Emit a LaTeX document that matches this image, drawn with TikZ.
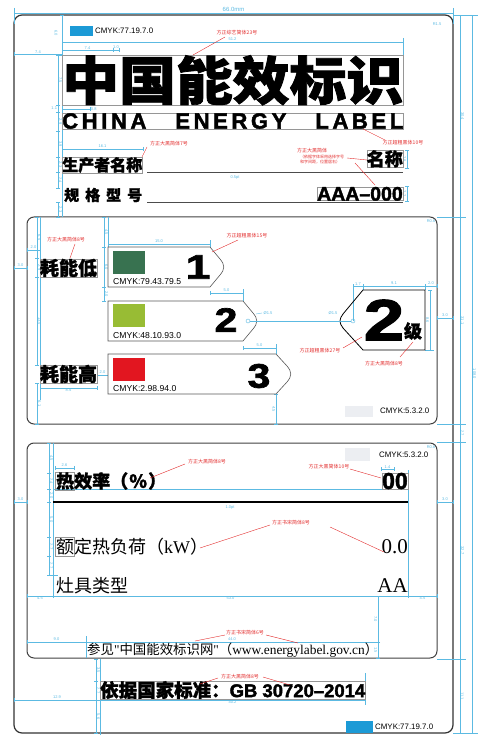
\documentclass[tikz,border=0pt]{standalone}
\usepackage{fontspec}
\usepackage{graphicx}
\setmainfont{Liberation Sans}
\newfontfamily\cjk{Noto Sans CJK SC}
\newfontfamily\cjkheavy{Noto Sans CJK SC}[BoldFeatures={FakeBold=1.5}]
\newfontfamily\heavy{Liberation Sans}[BoldFeatures={FakeBold=2}]
\newfontfamily\lserif{Liberation Serif}
\usetikzlibrary{arrows.meta}

\definecolor{dimblue}{RGB}{92,186,226}
\definecolor{notered}{RGB}{226,45,45}
\definecolor{labcyan}{RGB}{28,154,214}
\definecolor{gradeA}{RGB}{56,114,80}
\definecolor{gradeB}{RGB}{152,188,52}
\definecolor{gradeC}{RGB}{226,22,32}
\definecolor{paleswatch}{RGB}{236,238,242}
\definecolor{boxgray}{RGB}{150,150,150}

\begin{document}
\begin{tikzpicture}[x=1pt,y=-1pt,
    dimln/.style={draw=dimblue, line width=0.35pt, arrows={Bar[width=4pt]-Bar[width=4pt]}},
    extln/.style={draw=dimblue, line width=0.35pt},
    dimlab/.style={text=dimblue, font=\fontsize{4}{4}\selectfont, inner sep=0.8pt},
    note/.style={text=notered, font=\cjk\fontsize{5}{5}\selectfont, inner sep=0.5pt},
    noteln/.style={draw=notered, line width=0.4pt},
    textbox/.style={draw=boxgray, line width=0.5pt},
    panel/.style={draw=black!75, line width=1pt, rounded corners=7pt},
    bar/.style={draw=black!65, line width=0.6pt, fill=white},
    cmyk/.style={font=\fontsize{7.9}{8}\selectfont, anchor=west}]
\tikzstyle{every node}+=[inner sep=0pt]
\useasboundingbox (0,0) rectangle (478,735);

% outer frame and panels
\draw [black!80, line width=1.2pt, rounded corners=8pt] (14,15) rectangle (453,733);
\draw [panel] (27,217) rectangle (437,424);
\draw [panel] (27,443) rectangle (437,658);

% dimensions, outside
\draw [extln] (14,8) -- (14,24);
\draw [extln] (453,8) -- (453,24);
\draw [dimln] (14,13) -- (453,13) node [dimlab, midway, above, font=\fontsize{6}{6}\selectfont] (dWidth) {66.0mm};
\draw [extln] (453,15) -- (478,15);
\draw [extln] (437,217) -- (466,217);
\draw [extln] (437,424) -- (466,424);
\draw [extln] (437,442) -- (466,442);
\draw [extln] (437,659) -- (466,659);
\draw [extln] (453,733) -- (478,733);
\draw [dimln] (460,15) -- (460,217) node [dimlab, midway, rotate=-90, anchor=south] (dR1) {30.4};
\draw [dimln] (460,217) -- (460,424) node [dimlab, midway, rotate=-90, anchor=south] (dR2) {31.1};
\draw [dimln] (460,424) -- (460,442) node [dimlab, midway, rotate=-90, anchor=south] (dR3) {2.7};
\draw [dimln] (460,442) -- (460,659) node [dimlab, midway, rotate=-90, anchor=south] (dR4) {32.7};
\draw [dimln] (460,659) -- (460,733) node [dimlab, midway, rotate=-90, anchor=south] (dR5) {11.1};
\draw [dimln] (472,15) -- (472,733) node [dimlab, midway, rotate=-90, anchor=south] (dR6) {108.0};
\node [dimlab] (rTop) at (437,24) {R1.5};
\node [dimlab] (rMid) at (431,221) {R0.6};
\node [dimlab] (rLow) at (431,447) {R0.6};

% top block dimensions
\draw [extln] (62,15) -- (62,217);
\draw [extln] (403,38) -- (403,55);
\draw [dimln] (62,42) -- (403,42) node [dimlab, midway, above] (dTitleW) {51.2};
\draw [dimln] (14,54) -- (62,54) node [dimlab, midway, above] (dLeft) {7.4};
\draw [dimln] (62,50) -- (113,50) node [dimlab, midway, above] (dChar) {7.4};
\draw [dimln] (113,50) -- (119,50) node [dimlab, midway, above] (dGap) {1.0};
\draw [dimln] (62,15) -- (62,55);
\node [dimlab, rotate=-90] (dTop) at (56,33) {6.0};
\draw [dimln] (58,55) -- (58,105) node [dimlab, midway, rotate=-90, anchor=south] (dV1) {7.5};
\draw [dimln] (58,105) -- (58,112) node [dimlab, midway, left] (dV2) {1.1};
\draw [dimln] (58,112) -- (58,131) node [dimlab, midway, rotate=-90, anchor=south] (dV3) {2.9};
\draw [dimln] (58,131) -- (58,157) node [dimlab, midway, rotate=-90, anchor=south] (dV4) {3.9};
\draw [dimln] (58,157) -- (58,172) node [dimlab, midway, rotate=-90, anchor=south] (dV5) {2.3};
\draw [dimln] (58,172) -- (58,188) node [dimlab, midway, rotate=-90, anchor=south] (dV6) {2.4};
\draw [dimln] (58,202) -- (58,217) node [dimlab, midway, rotate=-90, anchor=south] (dV7) {2.3};
\draw [dimln] (62,109) -- (90,109) node [dimlab, right] (dLetter) {0.8};
\draw [dimln] (62,149) -- (143,149) node [dimlab, midway, above] (dMaker) {16.1};
\draw [dimln] (407,150) -- (407,168) node [dimlab, midway, rotate=-90, anchor=north] (dBrand) {2.8};
\draw [dimln] (407,186) -- (407,201) node [dimlab, midway, rotate=-90, anchor=north] (dModel) {2.2};

% title
\node [textbox, anchor=north west] (title) at (62,55) {\resizebox*{341pt}{50pt}{\cjkheavy\bfseries 中国能效标识}};
\node [textbox, anchor=north west] (entitle) at (62,113) {\makebox[341pt][s]{\heavy\fontsize{22}{22}\selectfont\bfseries C\hfill H\hfill I\hfill N\hfill A\hspace{\stretch{8}}E\hfill N\hfill E\hfill R\hfill G\hfill Y\hspace{\stretch{8}}L\hfill A\hfill B\hfill E\hfill L}};
\node [cmyk] (cmykTop) at (95,31) {CMYK:77.19.7.0};
\fill [labcyan] (70,26) rectangle (93,36);

% maker and model
\node [textbox, anchor=west] (maker) at (62,165) {\cjkheavy\bfseries\fontsize{16}{16}\selectfont 生产者名称};
\draw [black!70, line width=0.8pt] (147,172) -- (403,172);
\node [dimlab] (lineW) at (235,178) {0.5pt};
\node [textbox, anchor=north east] (brand) at (403,150) {\cjkheavy\bfseries\fontsize{18}{18}\selectfont 名称};
\node [anchor=west] (model) at (64,195) {\makebox[78pt][s]{\cjkheavy\bfseries\fontsize{15}{15}\selectfont 规\hfill 格\hfill 型\hfill 号}};
\draw [black!70, line width=0.8pt] (147,202) -- (403,202);
\node [textbox, anchor=south east] (modelno) at (403,201) {\heavy\bfseries\fontsize{19.5}{20}\selectfont AAA–000};

% notes, top
\node [note] (nTitle) at (237,33) {方正综艺简体23号};
\draw [noteln] (225,37) -- (193,55);
\node [note] (nEn) at (403,143) {方正超粗黑体10号};
\draw [noteln] (363,129) -- (385,140);
\node [note] (nMaker) at (169,144) {方正大黑简体7号};
\draw [noteln] (147,147) -- (142,157);
\node [note] (nBrand) at (312,151) {方正大黑简体};
\node [note, font=\cjk\fontsize{4}{4}\selectfont] (nBrand2) at (322,157) {（依据字体采用选择字号};
\node [note, font=\cjk\fontsize{4}{4}\selectfont] (nBrand3) at (320,162) {和字间距，位置居右）};
\draw [noteln] (347,158) -- (367,160);
\draw [noteln] (355,163) -- (375,185);

% middle panel dimensions
\draw [extln] (40,217) -- (40,400);
\draw [extln] (108,217) -- (108,247);
\draw [dimln] (27,250) -- (40,250) node [dimlab, midway, above] (dM1) {2.0};
\draw [dimln] (14,268) -- (27,268) node [dimlab, midway, above] (dM2) {3.0};
\draw [dimln] (37,217) -- (37,258) node [dimlab, midway, rotate=-90, anchor=south] (dM3) {6.5};
\draw [dimln] (37,258) -- (37,277) node [dimlab, midway, rotate=-90, anchor=south] (dM4) {2.9};
\draw [dimln] (37,277) -- (37,365) node [dimlab, midway, rotate=-90, anchor=south] (dM5) {13.5};
\draw [dimln] (37,383) -- (37,424) node [dimlab, midway, rotate=-90, anchor=south] (dM6) {6.1};
\draw [dimln] (104,217) -- (104,247) node [dimlab, midway, rotate=-90, anchor=south] (dM7) {4.5};
\draw [dimln] (104,247) -- (104,287) node [dimlab, midway, rotate=-90, anchor=south] (dM8) {6.0};
\draw [dimln] (104,287) -- (104,301) node [dimlab, midway, rotate=-90, anchor=south] (dM9) {2.0};
\draw [extln] (210,240) -- (210,247);
\draw [dimln] (108,244) -- (210,244) node [dimlab, midway, above] (dBar) {15.0};
\draw [extln] (243,289) -- (243,301);
\draw [dimln] (210,293) -- (243,293) node [dimlab, midway, above] (dStep1) {5.0};
\draw [extln] (276,344) -- (276,354);
\draw [dimln] (243,348) -- (276,348) node [dimlab, midway, above] (dStep2) {5.0};
\draw [dimln] (276,394) -- (276,424) node [dimlab, midway, rotate=-90, anchor=north] (dM10) {4.5};
\draw [dimln] (97,375) -- (108,375) node [dimlab, midway, above] (dM11) {2.0};
\draw [dimln] (40,388) -- (97,388) node [dimlab, midway, below] (dM12) {8.5};
\draw [extln] (353,284) -- (353,321);
\draw [extln] (363,284) -- (363,290);
\draw [extln] (425,284) -- (425,290);
\draw [dimln] (353,286) -- (363,286) node [dimlab, midway, above] (dG1) {1.7};
\draw [dimln] (363,286) -- (425,286) node [dimlab, midway, above] (dG2) {9.1};
\draw [dimln] (425,286) -- (437,286) node [dimlab, midway, above] (dG3) {2.0};
\draw [extln] (425,350) -- (434,350);
\draw [dimln] (430,290) -- (430,350) node [dimlab, midway, rotate=-90, anchor=north] (dG4) {8.6};
\draw [dimln] (437,318) -- (453,318) node [dimlab, midway, above] (dM13) {3.0};

% grade bars
\draw [bar] (108,247) -- (210,247) -- (220,259) .. controls (225,265) and (225,269) .. (220,275) -- (210,287) -- (108,287) -- cycle;
\draw [bar] (108,301) -- (243,301) -- (253,313) .. controls (258,319) and (258,323) .. (253,329) -- (243,341) -- (108,341) -- cycle;
\draw [bar] (108,354) -- (276,354) -- (287,366) .. controls (292,372) and (292,376) .. (287,382) -- (276,394) -- (108,394) -- cycle;
\fill [gradeA] (113,251) rectangle (145,274);
\fill [gradeB] (113,304) rectangle (145,327);
\fill [gradeC] (113,358) rectangle (145,381);
\node [anchor=base west, font=\fontsize{8.6}{9}\selectfont] (cmykA) at (113,284) {CMYK:79.43.79.5};
\node [anchor=base west, font=\fontsize{8.6}{9}\selectfont] (cmykB) at (113,338) {CMYK:48.10.93.0};
\node [anchor=base west, font=\fontsize{8.6}{9}\selectfont] (cmykC) at (113,391) {CMYK:2.98.94.0};
\node (numA) at (198,267) {\scalebox{1.3}[1]{\heavy\bfseries\fontsize{34}{34}\selectfont 1}};
\node (numB) at (226,320) {\scalebox{1.2}[1]{\heavy\bfseries\fontsize{34}{34}\selectfont 2}};
\node (numC) at (259,376) {\scalebox{1.2}[1]{\heavy\bfseries\fontsize{34}{34}\selectfont 3}};
\node [textbox] (low) at (68.5,268) {\cjkheavy\bfseries\fontsize{19}{19}\selectfont 耗能低};
\node [textbox] (high) at (68.5,374) {\cjkheavy\bfseries\fontsize{19}{19}\selectfont 耗能高};

% grade indicator
\draw [black, line width=0.8pt] (425,290) -- (363,290) -- (343,314) .. controls (339,319) and (339,323) .. (343,328) -- (363,350) -- (425,350) -- cycle;
\node (gradeno) at (384,320) {\scalebox{1.25}[1]{\heavy\bfseries\fontsize{58}{58}\selectfont 2}};
\node (gradeunit) at (413,331) {\cjkheavy\bfseries\fontsize{18}{18}\selectfont 级};
\node [circle, draw=dimblue, line width=0.4pt, minimum size=4pt] (pinB) at (248,321) {};
\node [circle, draw=dimblue, line width=0.4pt, minimum size=4pt] (pinG) at (353,321) {};
\draw [extln] (pinB) -- (pinG);
\node [dimlab] (holeB) at (268,313) {Ø1.5};
\node [dimlab] (holeG) at (333,313) {Ø1.5};
\draw [extln] (256,314) -- (262,313);

% notes, middle
\node [note] (nLow) at (66,240) {方正大黑简体8号};
\draw [noteln] (75,244) -- (70,258);
\node [note] (nNum) at (247,236) {方正超粗黑体15号};
\draw [noteln] (238,240) -- (212,252);
\node [note] (nGrade) at (320,351) {方正超粗黑体27号};
\draw [noteln] (343,348) -- (362,337);
\node [note] (nUnit) at (384,364) {方正大黑简体8号};
\draw [noteln] (400,357) -- (413,342);

\fill [paleswatch] (345,406) rectangle (373,417);
\node [cmyk] (cmykMid) at (380,411) {CMYK:5.3.2.0};

% lower panel
\fill [paleswatch] (345,448) rectangle (370,461);
\node [cmyk] (cmykLow) at (379,455) {CMYK:5.3.2.0};
\draw [extln] (53,443) -- (53,596);
\draw [extln] (408,470) -- (408,596);
\draw [dimln] (49,443) -- (49,473) node [dimlab, midway, rotate=-90, anchor=south] (dL1) {4.5};
\draw [dimln] (49,473) -- (49,489) node [dimlab, midway, rotate=-90, anchor=south] (dL2) {2.4};
\draw [dimln] (49,489) -- (49,502) node [dimlab, midway, rotate=-90, anchor=south] (dL3) {2.0};
\draw [dimln] (49,502) -- (49,537) node [dimlab, midway, rotate=-90, anchor=south] (dL4) {5.0};
\draw [dimln] (49,537) -- (49,556) node [dimlab, midway, rotate=-90, anchor=south] (dL5) {2.7};
\draw [dimln] (49,556) -- (49,575) node [dimlab, midway, rotate=-90, anchor=south] (dL6) {2.7};
\draw [extln] (49,575) -- (58,575);
\draw [extln] (53,489) -- (408,489);
\draw [dimln] (55,468) -- (74,468) node [dimlab, midway, above] (dL7) {2.6};
\draw [dimln] (381,469) -- (394,469) node [dimlab, midway, above] (dL8) {1.4};
\draw [dimln] (14,502) -- (27,502) node [dimlab, midway, above] (dL9) {3.0};
\draw [dimln] (437,502) -- (453,502) node [dimlab, midway, above] (dL10) {3.0};
\draw [dimln] (27,596) -- (53,596) node [dimlab, midway, below] (dL11) {4.5};
\draw [dimln] (53,596) -- (408,596) node [dimlab, midway, below] (dL12) {53.0};
\draw [dimln] (408,596) -- (437,596) node [dimlab, midway, below] (dL13) {4.5};
\draw [dimln] (378,596) -- (378,642) node [dimlab, midway, rotate=-90, anchor=north] (dL14) {7.0};
\draw [dimln] (378,642) -- (378,658) node [dimlab, midway, rotate=-90, anchor=north] (dL15) {1.5};
\draw [extln] (86,636) -- (86,658);
\draw [dimln] (27,642) -- (86,642) node [dimlab, midway, above] (dL16) {9.0};
\draw [dimln] (86,642) -- (378,642) node [dimlab, midway, above] (dL17) {44.0};

\draw [textbox] (55,472) rectangle (74,490);
\node [anchor=west] (effic) at (56,481) {\makebox[110pt][s]{\cjkheavy\bfseries\fontsize{18}{18}\selectfont 热效率（\hfill\%\hfill）}};
\node [textbox, anchor=east] (effval) at (408,481) {\heavy\bfseries\fontsize{23}{23}\selectfont 00};
\draw [black, line width=1.6pt] (53,502) -- (408,502);
\node [dimlab] (ruleW) at (230,508) {1.0pt};
\draw [textbox] (55,537) rectangle (74,556);
\node [anchor=west] (load) at (56,547) {\cjk\fontsize{18}{18}\selectfont 额定热负荷（{\lserif kW}）};
\node [anchor=east] (loadval) at (408,547) {\lserif\fontsize{21}{21}\selectfont 0.0};
\node [anchor=west] (kind) at (56,586) {\cjk\fontsize{18}{18}\selectfont 灶具类型};
\node [anchor=east] (kindval) at (408,586) {\lserif\fontsize{21}{21}\selectfont AA};
\node [anchor=west] (web) at (87,650) {\resizebox{291pt}{!}{\cjk 参见{\lserif "}中国能效标识网{\lserif "}（{\lserif www.energylabel.gov.cn}）}};

% notes, lower
\node [note] (nEff) at (207,462) {方正大黑简体8号};
\draw [noteln] (150,478) -- (185,464);
\node [note] (nEffVal) at (329,467) {方正大黑简体10号};
\draw [noteln] (350,469) -- (381,478);
\node [note] (nLoad) at (291,523) {方正书宋简体8号};
\draw [noteln] (200,548) -- (270,525);
\draw [noteln] (330,527) -- (384,552);
\node [note] (nWeb) at (245,633) {方正书宋简体6号};
\draw [noteln] (195,641) -- (225,635);
\draw [noteln] (266,635) -- (298,643);

% standard line
\draw [extln] (100,659) -- (100,735);
\draw [extln] (365,673) -- (365,705);
\draw [dimln] (96,659) -- (96,681) node [dimlab, midway, rotate=-90, anchor=south] (dS1) {3.5};
\draw [dimln] (96,681) -- (96,700) node [dimlab, midway, rotate=-90, anchor=south] (dS2) {2.7};
\draw [dimln] (96,700) -- (96,733) node [dimlab, midway, rotate=-90, anchor=south] (dS3) {5.6};
\draw [dimln] (14,700) -- (100,700) node [dimlab, midway, above] (dS4) {12.9};
\draw [dimln] (100,700) -- (365,700) node [dimlab, midway, below] (dS5) {40.2};
\node [textbox, anchor=west] (standard) at (100,690) {\resizebox{265pt}{!}{\cjkheavy\bfseries 依据国家标准：{\heavy\bfseries GB 30720–2014}}};
\node [note] (nStd) at (240,677) {方正大黑简体8号};
\draw [noteln] (200,684) -- (218,678);
\draw [noteln] (263,677) -- (290,685);
\fill [labcyan] (346,721) rectangle (373,733);
\node [cmyk] (cmykBot) at (375,727) {CMYK:77.19.7.0};
\end{tikzpicture}
\end{document}
